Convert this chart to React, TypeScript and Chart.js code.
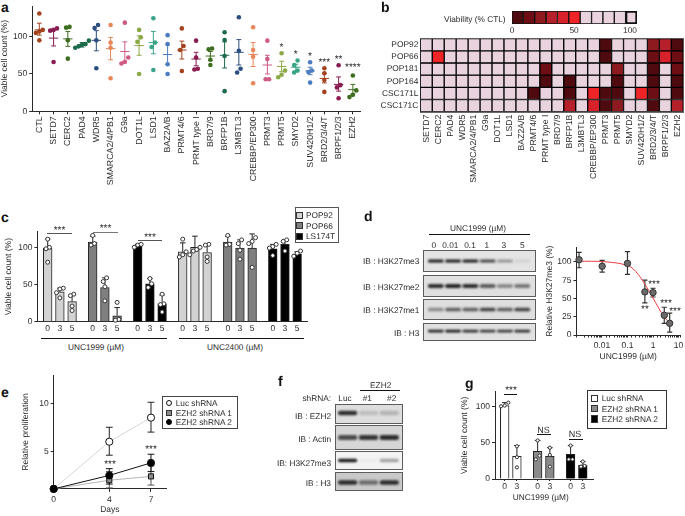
import React, { useEffect, useRef } from "react";
import { Chart, registerables } from "chart.js";

Chart.register(...registerables);
const FONT = "'Liberation Sans', Arial, sans-serif";
Chart.defaults.font.family = FONT;
Chart.register({ id: "preciseText", beforeDraw(c: any) { c.ctx.textRendering = "geometricPrecision"; } } as any);

// ---------- panel a ----------
const aCategories = ["CTL","SETD7","CERC2","PAD4","WDR5","SMARCA2/4/PB1","G9a","DOT1L","LSD1","BAZ2A/B","PRMT4/6","PRMT type I","BRD7/9","BRFP1B","L3MBTL3","CREBBP/EP300","PRMT3","PRMT5","SMYD2","SUV420H1/2","BRD2/3/4/T","BRPF1/2/3","EZH2"];
const aPoints = [[131,109,105,107,95],[111,109,108,66],[112,113,95,70.5],[94.6,89,87,85,90],[115.6,111.6,95,57.6],[115.6,92,85,44.2],[118.7,72,66,64],[109,99,93,50],[124.5,92,86,55.4],[102,90,63,50],[111,87.5,82,54],[94.6,72,56,57],[83,84,69,62],[105.8,95.5,74,27],[126,81,57,52],[112.5,82,73,37.5],[94.6,70,43,43],[77.7,54.5,49,45.5],[68,62,54.5,52],[65.6,54.5,52.7,38.4],[57.6,51,42,26],[61.6,35,32,17.4],[48,28,22,19]];
const aMeans = [109,98,97,89,95,84,80,88,92,76,82,70,74,75,79,76,62,60,59,54,44,36,29];
const aHi = [118,110,107,92,108,99,93,101,107,89,94,79,80,93,96,92,75,67,63,59,51,46,36];
const aLo = [102,87.5,87,86,81,69,67,75,77,63,70,61,68,58,62,60,50,53,54,49,38,27,23];
const aPalette = ["#a3431d","#8a1c52","#3f6d1f","#1c6b4a","#2b4e80","#e7875a","#d05a86","#8ba946","#3aa488","#4b7dc0"];
const aStars: [string, number, string][] = [["PRMT5",47.5,"*"],["SMYD2",54.5,"*"],["SUV420H1/2",56.5,"*"],["BRD2/3/4/T",62.5,"***"],["BRPF1/2/3",59.5,"**"],["EZH2",67.5,"****"]];

// ---------- panel b ----------
const bColumns = aCategories.slice(1);
const bRows = ["POP92","POP66","POP181","POP164","CSC171L","CSC171C"];
const bPOP92 =   [100,100,100,100,100,100,100,100,100,100,100,100,100,100,100,8,100,100,100,25,38,5];
const bPOP66 =   [100,50,100,100,100,100,100,100,100,100,100,100,100,100,100,8,100,100,100,10,48,10];
const bPOP181 =  [100,100,100,100,100,100,100,100,100,100,15,100,100,100,100,100,22,100,100,5,100,18];
const bPOP164 =  [100,100,100,100,100,100,100,100,100,100,5,100,8,100,100,100,8,100,100,8,100,8];
const bCSC171L = [100,100,100,100,100,100,100,100,100,5,100,100,8,100,50,8,8,100,50,10,100,8];
const bCSC171C = [100,100,100,100,100,100,100,100,100,100,100,100,38,100,45,5,25,100,100,5,100,35];
const bScaleSteps = [5,15,25,35,45,50,60,70,80,90,100];
const heatReds = ["#4e0a0e","#6c0e13","#8c1a1f","#b5202a","#d7222b","#ee2427"];
const heatLight = "#e8d3de";
const heatColor = (v: number) => (v > 50 ? heatLight : heatReds[Math.min(5, Math.floor(v / 10))]);

// ---------- panel c ----------
const cDoses = ["0","3","5"];
const cBars = [[99,40,27],[107,46,8],[103,51,24],[94,100,93],[107,99,99],[98,104,91]];
const cUpper = [[111,45,36],[115,59,19],[104,58,36],[106,115,103],[115,110,118],[104,110,94]];
const cDots = [
  [[111,100,98,80],[45,44,39,32],[37,35,21,15]],
  [[116,105,103],[59,54,47,28],[26,3,2]],
  [[103,104,100],[58,51,46],[37,24,23,13]],
  [[111,94,90,87],[100,97,95,90],[104,103,87,81]],
  [[116,104,103],[110,105,96,84],[113,108,105,73]],
  [[104,101,99,89],[110,108,95],[95,92,88]],
];
const cLines = ["POP92","POP66","LS174T"];
const cFill = ["#d2d2d2","#7f7f7f","#000000"];

// ---------- panel d ----------
const dDoseLabels = ["0","0.01","0.1","1","3","5"];
const dBlotMe3 = [0.9,0.9,0.9,0.7,0.35,0.08];
const dBlotMe2 = [0.95,1,0.95,0.7,0.45,0.55];
const dBlotMe1 = [0.45,0.7,0.7,0.85,0.7,0.85];
const dBlotH3 = [0.9,0.95,0.85,0.8,0.8,0.85];
const dDose = [0.00127,0.0102,0.1,0.48,1,2.76,4.5];
const dMean = [103,94,98,59,58,27,16];
const dHi = [113,102,114,75,64,38,30];
const dLo = [92,86,83,44,52,16,4];
const dFitDose = [0.001,0.0152,0.1,0.21,0.47,0.95,1.66,2.7,5.3];
const dFitValue = [101,100,95,87,70,52,37,25,14];

// ---------- panel e ----------
const eDays = [0,4,7];
const eLuc = [1.1,6,8.5];
const eLucHi = [1.1,7.5,10.1];
const eLucLo = [1.1,4.6,7];
const eSh1 = [1.1,2,2.4];
const eSh1Hi = [1.1,2.9,3.5];
const eSh1Lo = [1.1,1.2,1.5];
const eSh2 = [1.1,2.5,3.8];
const eSh2Hi = [1.1,3.2,4.7];
const eSh2Lo = [1.1,1.6,2.9];

// ---------- panel f ----------
const fLanes = ["Luc","#1","#2"];
const fBlotEzh2 = [0.85,0.15,0.2];
const fBlotActin = [0.7,0.8,0.85];
const fBlotMe3 = [0.95,0.03,0.35];
const fBlotH3 = [0.85,0.5,0.85];

// ---------- panel g ----------
const gDoses = ["0","3"];
const gBars = [[101,31],[38,31],[34,19]];
const gUpper = [[105,46],[53,43],[46,24]];
const gDots = [
  [[105,101,100],[45,30,16]],
  [[53,32,27],[43,33,17]],
  [[46,27,27],[24,18,17]],
];
const gFill = ["#ffffff","#8a8a8a","#000000"];

// ---------- helpers ----------
const INK = "#2a2a2a";
const tickFont = { family: FONT, size: 8.5 };

type Whisker = { x: number; lo: number; hi: number; mean?: number; color: string; cap: number; meanHalf?: number; lw: number };

function whiskerPlugin(items: Whisker[], beforeIndex: number) {
  return {
    id: "whiskers",
    beforeDatasetDraw(chart: any, args: any) {
      if (args.index !== beforeIndex) return;
      const { ctx, scales } = chart;
      ctx.save();
      for (const w of items) {
        const px = scales.x.getPixelForValue(w.x);
        const top = scales.y.getPixelForValue(w.hi);
        const bot = scales.y.getPixelForValue(w.lo);
        ctx.strokeStyle = w.color;
        ctx.lineWidth = w.lw;
        ctx.beginPath();
        ctx.moveTo(px, top); ctx.lineTo(px, bot);
        ctx.moveTo(px - w.cap, top); ctx.lineTo(px + w.cap, top);
        if (w.lo !== w.mean) { ctx.moveTo(px - w.cap, bot); ctx.lineTo(px + w.cap, bot); }
        if (w.mean !== undefined && w.meanHalf) {
          const m = scales.y.getPixelForValue(w.mean);
          ctx.moveTo(px - w.meanHalf, m); ctx.lineTo(px + w.meanHalf, m);
        }
        ctx.stroke();
      }
      ctx.restore();
    },
  };
}

function swarm(values: number[], near: number, step: number): number[] {
  const order = values.map((v, i) => [v, i]).sort((a, b) => a[0] - b[0]);
  const out = values.map(() => 0);
  let start = 0;
  for (let k = 1; k <= order.length; k++) {
    if (k === order.length || order[k][0] - order[k - 1][0] > near) {
      const n = k - start;
      for (let j = start; j < k; j++) out[order[j][1]] = (j - start - (n - 1) / 2) * step;
      start = k;
    }
  }
  return out;
}

type Frame = { L: number; T: number; W: number; H: number; x0: number; y0: number; x1: number; y1: number };
const frame = (L: number, T: number, W: number, H: number, x0: number, y0: number, x1: number, y1: number): Frame => ({ L, T, W, H, x0, y0, x1, y1 });

function fitTo(size: number) {
  return (s: any) => {
    s.paddingLeft = s.paddingRight = s.paddingTop = s.paddingBottom = 0;
    if (s.isHorizontal()) s.height = size; else s.width = size;
  };
}

function axis(f: Frame, horizontal: boolean, o: any) {
  const size = horizontal ? f.T + f.H - f.y1 : f.x0 - f.L;
  return {
    type: o.type || "linear",
    min: o.min,
    max: o.max,
    offset: false,
    afterFit: fitTo(size),
    afterBuildTicks: o.values ? (s: any) => { s.ticks = o.values.map((value: number) => ({ value })); } : undefined,
    grid: { display: true, offset: false, drawOnChartArea: false, drawTicks: true, tickLength: o.tick ?? 3, tickColor: INK, tickWidth: 1 },
    border: { display: true, color: INK, width: 1 },
    ticks: {
      autoSkip: false,
      color: INK,
      font: o.font || tickFont,
      padding: o.pad ?? 2,
      maxRotation: o.rotate ?? 0,
      minRotation: o.rotate ?? 0,
      callback: o.label || ((v: number) => String(v)),
    },
    title: o.title ? { display: true, text: o.title, color: INK, font: tickFont, padding: 0 } : { display: false },
  };
}

function baseOptions(f: Frame, scales: any) {
  return {
    responsive: false,
    animation: false,
    devicePixelRatio: 1,
    layout: { padding: { left: 0, bottom: 0, top: f.y0 - f.T, right: f.L + f.W - f.x1 } },
    plugins: { legend: { display: false }, tooltip: { enabled: false } },
    scales,
  };
}

function Plot({ f, build, style }: { f: Frame; build: () => any; style?: any }) {
  const ref = useRef<HTMLCanvasElement>(null);
  useEffect(() => {
    const chart = new Chart(ref.current as any, build());
    return () => chart.destroy();
  }, []);
  return <canvas ref={ref} width={f.W} height={f.H} style={{ position: "absolute", left: f.L, top: f.T, width: f.W, height: f.H, ...style }} />;
}

function Txt({ x, y, a = "l", size = 8.3, bold, color = INK, children }: any) {
  const tx = a === "l" ? "0" : a === "c" ? "-50%" : "-100%";
  return (
    <div style={{ position: "absolute", left: x, top: y, transform: `translate(${tx},-50%)`, font: `${bold ? "bold " : ""}${size}px/1 ${FONT}`, color, whiteSpace: "nowrap", textRendering: "geometricPrecision" }}>
      {children}
    </div>
  );
}
const Rule = ({ x0, x1, y, c = "#111", t = 1 }: any) => (
  <div style={{ position: "absolute", left: x0, top: y, width: x1 - x0, height: t, background: c }} />
);
const Box = ({ x0, y0, x1, y1, bg = "#fff", bd = "#333", w = 1 }: any) => (
  <div style={{ position: "absolute", left: x0, top: y0, width: x1 - x0, height: y1 - y0, background: bg, border: `${w}px solid ${bd}`, boxSizing: "border-box" }} />
);

// ---------- charts ----------
function PanelA() {
  const f = frame(0, 0, 365, 192, 32.2, 6, 360, 111.3);
  return <Plot f={f} build={() => {
    const data: any[] = []; const colors: string[] = []; const whisk: Whisker[] = [];
    aPoints.forEach((vals, i) => {
      const off = swarm(vals, 6, 0.24);
      const color = aPalette[i % aPalette.length];
      vals.forEach((y, k) => { data.push({ x: i + off[k], y }); colors.push(color); });
      whisk.push({ x: i, lo: aLo[i], hi: aHi[i], mean: aMeans[i], color, cap: 2.4, meanHalf: 4.7, lw: 1 });
    });
    return {
      type: "scatter",
      data: { datasets: [{ data, pointBackgroundColor: colors, pointBorderWidth: 0, pointRadius: 2.3, clip: false }] },
      options: baseOptions(f, {
        x: axis(f, true, { min: -0.5, max: 22.5, values: aCategories.map((_, i) => i), label: (v: number) => aCategories[v], rotate: 90, pad: 2, font: { family: FONT, size: 8.8 } }),
        y: axis(f, false, { min: 0, max: 141, values: [0, 50, 100], title: "Viable cell count (%)" }),
      }),
      plugins: [whiskerPlugin(whisk, 0)],
    };
  }} />;
}

function PanelB() {
  const f = frame(375, 30, 310, 160, 420.3, 38.7, 683.3, 111.7);
  const rows = [bPOP92, bPOP66, bPOP181, bPOP164, bCSC171L, bCSC171C];
  return <Plot f={f} build={() => {
    const xA = axis(f, true, { type: "category", rotate: 90, pad: 3, label: (_: any, i: number) => bColumns[i], font: { family: FONT, size: 8.7 } });
    const yA = axis(f, false, { min: 0, max: 6, values: bRows.map((_, i) => i + 0.5), label: (v: number) => bRows[v - 0.5], font: { family: FONT, size: 8.4 }, pad: 2 });
    [xA, yA].forEach((s: any) => { s.grid = { display: false, drawTicks: false, tickLength: 0 }; s.border = { display: false }; });
    (xA as any).offset = true;
    (yA as any).reverse = true;
    return {
      type: "bar",
      data: {
        labels: bColumns,
        datasets: rows.map((row, r) => ({
          data: row.map(() => [r, r + 1]),
          backgroundColor: row.map(heatColor),
          borderColor: "#000",
          borderWidth: 1,
          borderSkipped: false,
          grouped: false,
          barPercentage: 1,
          categoryPercentage: 1,
        })),
      },
      options: baseOptions(f, { x: xA, y: yA }),
    };
  }} />;
}

function Scale() {
  const f = frame(512, 11, 125, 13, 512, 11, 637, 24);
  return <Plot f={f} build={() => ({
    type: "bar",
    data: {
      labels: bScaleSteps.map(String),
      datasets: [{
        data: bScaleSteps.map(() => [0, 1]),
        backgroundColor: bScaleSteps.map(heatColor),
        borderColor: "#111",
        borderWidth: bScaleSteps.map((_, i) => (i === bScaleSteps.length - 1 ? 2 : 1)),
        borderSkipped: false,
        barPercentage: 1,
        categoryPercentage: 1,
      }],
    },
    options: {
      responsive: false, animation: false, devicePixelRatio: 1,
      layout: { padding: 0 },
      plugins: { legend: { display: false }, tooltip: { enabled: false } },
      scales: { x: { display: false }, y: { display: false, min: 0, max: 1 } },
    },
  })} />;
}

function Blot({ x0, x1, y0, y1, padL, padR, bands, labels, c = 0.5, thick = 0.15, bg = "#dcdcdc" }: any) {
  const f = frame(x0, y0, x1 - x0, y1 - y0, x0, y0, x1, y1);
  return (
    <>
      <Box x0={x0} y0={y0} x1={x1} y1={y1} bg={bg} bd="#5c5c5c" />
      <Plot f={f} style={{ filter: "blur(0.9px)" }} build={() => ({
        type: "bar",
        data: {
          labels,
          datasets: [{
            data: bands.map(() => [c - thick / 2, c + thick / 2]),
            backgroundColor: bands.map((d: number) => `rgba(15,15,15,${d})`),
            borderWidth: 0,
            borderRadius: 2,
            borderSkipped: false,
            barPercentage: 0.92,
            categoryPercentage: 1,
          }],
        },
        options: {
          responsive: false, animation: false, devicePixelRatio: 1,
          layout: { padding: { left: padL, right: padR, top: 0, bottom: 0 } },
          plugins: { legend: { display: false }, tooltip: { enabled: false } },
          scales: { x: { display: false }, y: { display: false, min: 0, max: 1, reverse: true } },
        },
      })} />
    </>
  );
}

function PanelC() {
  const f = frame(3.6, 225, 310, 110, 37, 231.7, 307, 321.7);
  const period = 3.69;
  return <Plot f={f} build={() => {
    const bars: any[] = []; const fill: string[] = []; const pts: any[] = []; const whisk: Whisker[] = []; const ticks: number[] = [];
    cBars.forEach((grp, g) => {
      grp.forEach((y, i) => {
        const x = g * period + i;
        ticks.push(x);
        bars.push({ x, y });
        fill.push(cFill[g % 3]);
        whisk.push({ x, lo: y, hi: cUpper[g][i], mean: y, color: "#222", cap: 2.8, lw: 1 });
        const off = swarm(cDots[g][i], 5, 0.28);
        cDots[g][i].forEach((v, k) => { pts.push({ x: x + off[k], y: v }); });
      });
    });
    return {
      type: "bar",
      data: {
        datasets: [
          { type: "scatter", data: pts, pointBackgroundColor: "#fff", pointBorderColor: "#333", pointBorderWidth: 1, pointRadius: 2, clip: false },
          { type: "bar", data: bars, backgroundColor: fill, borderColor: "#222", borderWidth: 1, barThickness: 8.7 },
        ],
      },
      options: baseOptions(f, {
        x: axis(f, true, { min: -0.844, max: 21.29, values: ticks, tick: 0, pad: 2, label: (_: number, i: number) => cDoses[i % 3] }),
        y: axis(f, false, { min: 0, max: 121, values: [0, 50, 100], title: "Viable cell count (%)" }),
      }),
      plugins: [whiskerPlugin(whisk, 0)],
    };
  }} />;
}

function PanelD() {
  const f = frame(544.6, 240, 140, 122, 576, 247.3, 682, 335);
  return <Plot f={f} build={() => {
    const whisk = dDose.map((x, i) => ({ x, lo: dLo[i], hi: dHi[i], color: "#333", cap: 2.6, lw: 1.2 }));
    const isMajor = (v: number) => v >= 0.01 && Math.abs(Math.log10(v) - Math.round(Math.log10(v))) < 1e-6;
    return {
      type: "scatter",
      data: {
        datasets: [
          { data: dDose.map((x, i) => ({ x, y: dMean[i] })), pointBackgroundColor: "#6a6a6a", pointBorderColor: "#333", pointBorderWidth: 1, pointRadius: 3.2, clip: false },
          { type: "line", data: dFitDose.map((x, i) => ({ x, y: dFitValue[i] })), borderColor: "#ec3b3f", borderWidth: 1, pointRadius: 0, tension: 0.4, clip: false },
        ],
      },
      options: baseOptions(f, {
        x: axis(f, true, { type: "logarithmic", min: 0.001, max: 11.4, tick: 2.5, pad: 3, title: "UNC1999 (µM)", label: (v: number) => (isMajor(v) ? String(+v.toFixed(3)) : "") }),
        y: axis(f, false, { min: 0, max: 120, values: [0, 25, 50, 75, 100], title: "Relative H3K27me3 (%)" }),
      }),
      plugins: [whiskerPlugin(whisk, 1)],
    };
  }} />;
}

function PanelE() {
  const f = frame(20.6, 368, 150, 147.4, 53.3, 375, 166, 489.3);
  return <Plot f={f} build={() => {
    const mk = (x: number, lo: number, hi: number, color: string) => ({ x, lo, hi, color, cap: 3.4, lw: 1 });
    const whisk: Whisker[] = [];
    eDays.forEach((d, i) => {
      whisk.push(mk(d, eSh1Lo[i], eSh1Hi[i], "#555"));
      whisk.push(mk(d, eLucLo[i], eLucHi[i], "#222"));
      whisk.push(mk(d, eSh2Lo[i], eSh2Hi[i], "#111"));
    });
    const line = (vals: number[], color: string, bg: string, style: string) => ({
      type: "line",
      data: eDays.map((x, i) => ({ x, y: vals[i] })),
      borderColor: color, borderWidth: 1, tension: 0, clip: false,
      pointStyle: style, pointRadius: 3.6, pointBackgroundColor: bg, pointBorderColor: "#111", pointBorderWidth: 1,
    });
    return {
      type: "line",
      data: { datasets: [line(eSh2, "#111", "#000", "circle"), line(eSh1, "#b5b5b5", "#8c8c8c", "rect"), line(eLuc, "#d6d6d6", "#fff", "circle")] },
      options: baseOptions(f, {
        x: axis(f, true, { min: 0, max: 8.08, values: eDays, pad: 3, title: "Days" }),
        y: axis(f, false, { min: 1.1, max: 12.93, values: [5, 10], title: "Relative proliferation" }),
      }),
      plugins: [whiskerPlugin(whisk, 2)],
    };
  }} />;
}

function PanelG() {
  const f = frame(460, 385, 140, 112, 495, 391.7, 593.3, 479);
  const period = 2.7;
  return <Plot f={f} build={() => {
    const bars: any[] = []; const fill: string[] = []; const pts: any[] = []; const whisk: Whisker[] = []; const ticks: number[] = [];
    gBars.forEach((grp, g) => {
      grp.forEach((y, i) => {
        const x = g * period + i;
        ticks.push(x);
        bars.push({ x, y });
        fill.push(gFill[g]);
        whisk.push({ x, lo: y, hi: gUpper[g][i], mean: y, color: "#222", cap: 2.8, lw: 1 });
        const off = swarm(gDots[g][i], 5, 0.3);
        gDots[g][i].forEach((v, k) => { pts.push({ x: x + off[k], y: v }); });
      });
    });
    return {
      type: "bar",
      data: {
        datasets: [
          { type: "scatter", data: pts, pointBackgroundColor: "#fff", pointBorderColor: "#333", pointBorderWidth: 1, pointRadius: 1.6, clip: false },
          { type: "bar", data: bars, backgroundColor: fill, borderColor: "#222", borderWidth: 1, barThickness: 8.7 },
        ],
      },
      options: baseOptions(f, {
        x: axis(f, true, { min: -0.795, max: 7.26, values: ticks, tick: 2, pad: 1, label: (_: number, i: number) => gDoses[i % 2] }),
        y: axis(f, false, { min: 0, max: 120, values: [0, 50, 100], title: "Viable cell count (%)" }),
      }),
      plugins: [whiskerPlugin(whisk, 0)],
    };
  }} />;
}

const LegendSwatch = ({ x, y, s, bg, bd = "#333", round }: any) => (
  <div style={{ position: "absolute", left: x - s / 2, top: y - s / 2, width: s, height: s, background: bg, border: `1px solid ${bd}`, boxSizing: "border-box", borderRadius: round ? "50%" : 0 }} />
);

export default function App() {
  const dLaneNames = dDoseLabels;
  return (
    <div style={{ position: "absolute", left: 0, top: 0, width: 685, height: 516, background: "#fff", overflow: "hidden", filter: "blur(0.35px)" }}>
      <Txt x={1} y={7} size={14} bold color="#111">a</Txt>
      <PanelA />
      {aStars.map(([cat, y, s]) => (
        <Txt key={cat} x={39.3 + aCategories.indexOf(cat) * 14.25} y={y} a="c" size={10}>{s}</Txt>
      ))}

      <Txt x={381} y={7} size={14} bold color="#111">b</Txt>
      <Txt x={444} y={19}>Viability (% CTL)</Txt>
      <Scale />
      <Txt x={512} y={30} a="c">0</Txt>
      <Txt x={574} y={30} a="c">50</Txt>
      <Txt x={630} y={30} a="c">100</Txt>
      <Box x0={419.5} y0={38} x1={684} y1={112.5} bg="transparent" bd="#6a6a6a" />
      <PanelB />

      <Txt x={1} y={217} size={14} bold color="#111">c</Txt>
      <PanelC />
      <Rule x0={47} x1={72} y={233} c="#555" />
      <Txt x={59.5} y={231} a="c" size={10}>***</Txt>
      <Rule x0={93} x1={118} y={231.5} c="#777" />
      <Txt x={105.5} y={229} a="c" size={10}>***</Txt>
      <Rule x0={138} x1={162} y={240} c="#555" />
      <Txt x={150} y={238} a="c" size={10}>***</Txt>
      <Rule x0={41} x1={167} y={338} />
      <Rule x0={179} x1={304} y={338} />
      <Txt x={96} y={347} a="c">UNC1999  (µM)</Txt>
      <Txt x={235} y={347} a="c">UNC2400  (µM)</Txt>
      <Box x0={295} y0={207} x1={339} y1={243} bd="#555" />
      {cLines.map((n, i) => (
        <React.Fragment key={n}>
          <LegendSwatch x={299.8} y={215 + i * 10.6} s={7} bg={cFill[i]} />
          <Txt x={306} y={215 + i * 10.6}>{n}</Txt>
        </React.Fragment>
      ))}

      <Txt x={364} y={216} size={14} bold color="#111">d</Txt>
      <Txt x={478} y={227.5} a="c">UNC1999 (µM)</Txt>
      <Rule x0={429} x1={529.5} y={234} />
      {dLaneNames.map((n, i) => (
        <Txt key={n} x={[433.7, 450.3, 470, 486.7, 503.7, 522.3][i]} y={244.5} a="c">{n}</Txt>
      ))}
      <Blot x0={423.3} x1={535.7} y0={250} y1={271.7} padL={4.1} padR={5.1} bands={dBlotMe3} labels={dDoseLabels} bg="#e4e4e4" />
      <Blot x0={423.3} x1={535.7} y0={275.3} y1={296.7} padL={4.1} padR={5.1} bands={dBlotMe2} labels={dDoseLabels} bg="#e0e0e0" thick={0.17} />
      <Blot x0={423.3} x1={535.7} y0={299.3} y1={320} padL={4.1} padR={5.1} bands={dBlotMe1} labels={dDoseLabels} bg="#dedede" />
      <Blot x0={423.3} x1={535.7} y0={322.7} y1={341} padL={4.1} padR={5.1} bands={dBlotH3} labels={dDoseLabels} bg="#e0e0e0" c={0.45} />
      <Txt x={419.3} y={261} a="r">IB : H3K27me3</Txt>
      <Txt x={419.3} y={286.7} a="r">IB : H3K27me2</Txt>
      <Txt x={419.3} y={310} a="r">IB : H3K27me1</Txt>
      <Txt x={419.3} y={332.7} a="r">IB : H3</Txt>
      <PanelD />
      <Txt x={654} y={285} a="c" size={10}>***</Txt>
      <Txt x={645} y={309.5} a="c" size={10}>**</Txt>
      <Txt x={666} y={304} a="c" size={10}>***</Txt>
      <Txt x={675} y={312} a="c" size={10}>***</Txt>

      <Txt x={1} y={392} size={14} bold color="#111">e</Txt>
      <PanelE />
      <Txt x={110} y={465} a="c" size={10}>***</Txt>
      <Txt x={151} y={450} a="c" size={10}>***</Txt>
      <Box x0={161.7} y0={395.7} x1={238} y1={429.5} bd="#444" />
      <LegendSwatch x={169} y={403.3} s={6} bg="#fff" bd="#111" round />
      <LegendSwatch x={169} y={412.7} s={6} bg="#8c8c8c" bd="#333" />
      <LegendSwatch x={169} y={422.3} s={6} bg="#000" bd="#000" round />
      <Txt x={175.7} y={403.3}>Luc shRNA</Txt>
      <Txt x={175.7} y={412.7}>EZH2 shRNA 1</Txt>
      <Txt x={175.7} y={422.3}>EZH2 shRNA 2</Txt>

      <Txt x={278} y={381} size={14} bold color="#111">f</Txt>
      <Txt x={380.7} y={385} a="c">EZH2</Txt>
      <Rule x0={360} x1={400} y={390} />
      <Txt x={331} y={398.3} a="r">shRNA:</Txt>
      {fLanes.map((n, i) => (
        <Txt key={n} x={[345, 367.3, 391.7][i]} y={398.3} a="c">{n}</Txt>
      ))}
      <Blot x0={334.7} x1={402.7} y0={404.3} y1={424.3} padL={2.2} padR={3.3} bands={fBlotEzh2} labels={fLanes} c={0.45} thick={0.22} bg="#dedede" />
      <Blot x0={334.7} x1={402.7} y0={425} y1={450} padL={2.2} padR={3.3} bands={fBlotActin} labels={fLanes} thick={0.2} bg="#d6d6d6" />
      <Blot x0={334.7} x1={402.7} y0={451} y1={470} padL={2.2} padR={3.3} bands={fBlotMe3} labels={fLanes} thick={0.18} bg="#f3f3f3" />
      <Blot x0={334.7} x1={402.7} y0={471.7} y1={490.7} padL={2.2} padR={3.3} bands={fBlotH3} labels={fLanes} c={0.55} thick={0.24} bg="#c9c9c9" />
      <Txt x={331} y={416} a="r">IB : EZH2</Txt>
      <Txt x={331} y={438.7} a="r">IB : Actin</Txt>
      <Txt x={331} y={462.7} a="r">IB: H3K27me3</Txt>
      <Txt x={331} y={483.3} a="r">IB : H3</Txt>

      <Txt x={465} y={383} size={14} bold color="#111">g</Txt>
      <PanelG />
      <Txt x={511} y={391} a="c" size={10}>***</Txt>
      <Rule x0={504} x1={517} y={394} />
      <Txt x={543.5} y={430} a="c" size={9}>NS</Txt>
      <Rule x0={537} x1={551} y={434} />
      <Txt x={575} y={434} a="c" size={9}>NS</Txt>
      <Rule x0={569} x1={583} y={439} />
      <Txt x={540.7} y={497.3} a="c">UNC1999 (µM)</Txt>
      <Box x0={587.3} y0={390} x1={667} y1={428.5} bd="#333" />
      <LegendSwatch x={594.5} y={398.3} s={7.5} bg={gFill[0]} />
      <LegendSwatch x={594.5} y={408.7} s={7.5} bg={gFill[1]} />
      <LegendSwatch x={594.5} y={419} s={7.5} bg={gFill[2]} />
      <Txt x={601.7} y={398.3}>Luc shRNA</Txt>
      <Txt x={601.7} y={408.7}>EZH2 shRNA 1</Txt>
      <Txt x={601.7} y={419}>EZH2 shRNA 2</Txt>
    </div>
  );
}
